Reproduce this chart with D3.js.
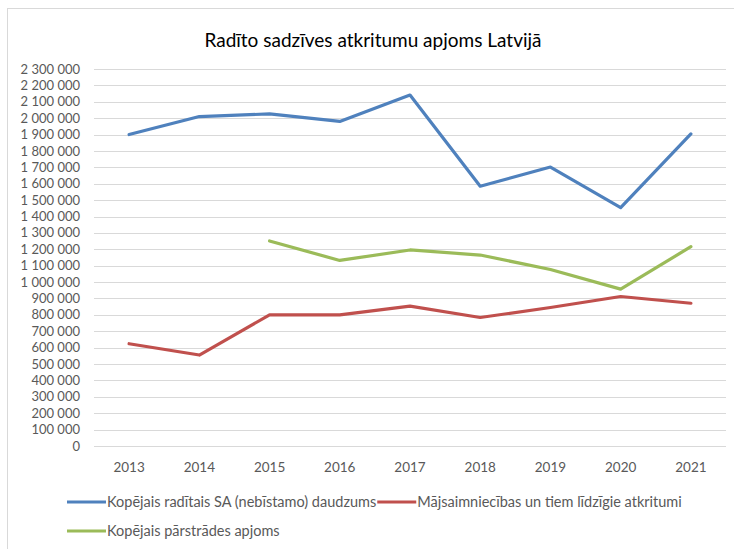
<!DOCTYPE html>
<html>
<head>
<meta charset="utf-8">
<script src="https://cdn.jsdelivr.net/npm/d3@7"></script>
<style>
  body { margin: 0; background: #fff; }
  svg { display: block; font-family: Lato, "Open Sans", sans-serif; }
</style>
</head>
<body>
<div id="chart"></div>
<script>
// data
const years = [2013, 2014, 2015, 2016, 2017, 2018, 2019, 2020, 2021];
const generated = [1900000, 2010000, 2026000, 1980000, 2141000, 1585000, 1702000, 1454000, 1904000];
const household = [624000, 555000, 800000, 800000, 853000, 784000, 845000, 912000, 871000];
const recycled = [null, null, 1251000, 1132000, 1196000, 1165000, 1077000, 957000, 1216000];
const yTicks = d3.range(0, 2300001, 100000);

const seriesNames = [
    "Kopējais radītais SA (nebīstamo) daudzums",
    "Mājsaimniecības un tiem līdzīgie atkritumi",
    "Kopējais pārstrādes apjoms"
];
const seriesColors = ["#4f81bd", "#c0504d", "#9bbb59"];
const seriesValues = [generated, household, recycled];

const width = 734, height = 549;
const margin = { top: 69, right: 8, bottom: 103, left: 94 };

const svg = d3.select("#chart")
    .append("svg")
    .attr("width", width)
    .attr("height", height);

// chart area border
svg.append("rect")
    .attr("x", 7.5).attr("y", 8.5)
    .attr("width", 760).attr("height", 580)
    .attr("fill", "none")
    .attr("stroke", "#d9d9d9");

// title
svg.append("text")
    .attr("x", 373)
    .attr("y", 40)
    .attr("dy", "0.35em")
    .attr("text-anchor", "middle")
    .attr("font-size", "19px")
    .attr("fill", "#000")
    .text("Radīto sadzīves atkritumu apjoms Latvijā");

const x = d3.scaleBand()
    .domain(years)
    .range([margin.left, width - margin.right]);

const y = d3.scaleLinear()
    .domain([0, 2300000])
    .range([height - margin.bottom, margin.top]);

const locale = d3.formatLocale({ decimal: ",", thousands: " ", grouping: [3], currency: ["", ""] });
const fmt = locale.format(",.0f");

// gridlines
svg.append("g")
    .selectAll("line")
    .data(yTicks)
    .join("line")
    .attr("x1", margin.left)
    .attr("x2", width - margin.right)
    .attr("y1", d => Math.round(y(d)) + 0.5)
    .attr("y2", d => Math.round(y(d)) + 0.5)
    .attr("stroke", "#d9d9d9")
    .attr("stroke-width", 1);

// y labels
svg.append("g")
    .selectAll("text")
    .data(yTicks)
    .join("text")
    .attr("x", 80)
    .attr("y", d => y(d))
    .attr("dy", "0.35em")
    .attr("text-anchor", "end")
    .attr("font-size", "13px")
    .attr("fill", "#595959")
    .text(d => fmt(d));

// x labels
svg.append("g")
    .selectAll("text")
    .data(years)
    .join("text")
    .attr("x", d => x(d) + x.bandwidth() / 2)
    .attr("y", 467)
    .attr("dy", "0.35em")
    .attr("text-anchor", "middle")
    .attr("font-size", "13.5px")
    .attr("fill", "#595959")
    .text(d => d);

// lines
const line = d3.line()
    .defined(d => d.v != null)
    .x(d => x(d.year) + x.bandwidth() / 2)
    .y(d => y(d.v));

seriesValues.forEach((vals, i) => {
    svg.append("path")
        .datum(years.map((yr, j) => ({ year: yr, v: vals[j] })))
        .attr("d", line)
        .attr("fill", "none")
        .attr("stroke", seriesColors[i])
        .attr("stroke-width", 3.2)
        .attr("stroke-linejoin", "round")
        .attr("stroke-linecap", "round");
});

// legend
const legendRows = [
    { items: [0, 1], y: 502 },
    { items: [2], y: 531 }
];
legendRows.forEach(row => {
    let cx = 67;
    row.items.forEach(i => {
        svg.append("line")
            .attr("x1", cx).attr("x2", cx + 39)
            .attr("y1", row.y).attr("y2", row.y)
            .attr("stroke", seriesColors[i])
            .attr("stroke-width", 3.2);
        const t = svg.append("text")
            .attr("x", cx + 40)
            .attr("y", row.y)
            .attr("dy", "0.35em")
            .attr("font-size", "14.5px")
            .attr("fill", "#595959")
            .text(seriesNames[i]);
        cx += 40 + t.node().getComputedTextLength() + 1;
    });
});
</script>
</body>
</html>
